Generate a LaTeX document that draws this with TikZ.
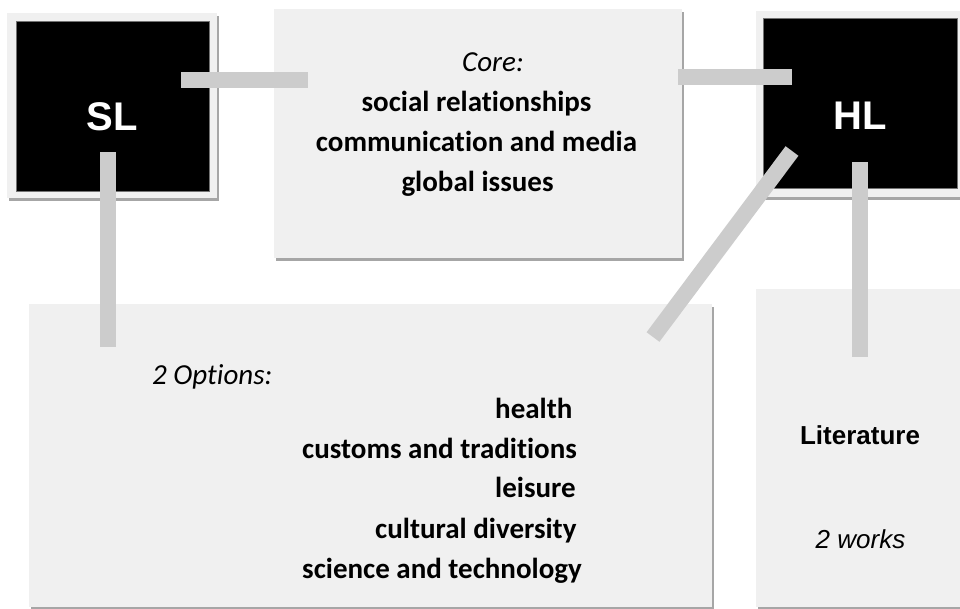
\documentclass[tikz,border=0pt]{standalone}
\usepackage{fontspec}
\newfontfamily\calibri[Ligatures=NoCommon]{Carlito}
\newfontfamily\arialf{Liberation Sans}
\usetikzlibrary{shadows}
\definecolor{panelgray}{HTML}{F0F0F0}
\definecolor{bargray}{HTML}{CCCCCC}
\definecolor{shadowgray}{HTML}{A6A6A6}
\begin{document}
\begin{tikzpicture}[x=1pt,y=-1pt,
  panel/.style={rectangle, fill=panelgray, draw=none, inner sep=0pt, outer sep=0pt, anchor=north west,
    drop shadow={shadow xshift=2pt, shadow yshift=-3pt, fill=shadowgray, opacity=1}},
  blackbox/.style={rectangle, fill=black, draw=black!55, line width=0.6pt, inner sep=0pt, outer sep=0pt, anchor=north west},
  bar/.style={draw=bargray, line width=16pt, line cap=butt},
  bigtxt/.style={font=\arialf\bfseries\fontsize{40}{40}\selectfont, text=white, anchor=base, inner sep=0pt},
  cbold/.style={font=\calibri\bfseries\fontsize{29}{29}\selectfont, anchor=base, inner sep=0pt},
  cital/.style={font=\calibri\itshape\fontsize{29}{29}\selectfont, anchor=base, inner sep=0pt},
  abold/.style={font=\arialf\bfseries\fontsize{26}{26}\selectfont, anchor=base, inner sep=0pt},
  aital/.style={font=\arialf\itshape\fontsize{26}{26}\selectfont, anchor=base, inner sep=0pt}
]
\useasboundingbox (0,0) rectangle (960,608);
\fill[white] (0,0) rectangle (960,608);
\clip (0,0) rectangle (960,608);

% frames and panels
\node[panel, minimum width=210pt, minimum height=185pt] (slframe) at (7,13) {};
\node[blackbox, minimum width=193pt, minimum height=170pt] (sl) at (16,21) {};
\node[panel, minimum width=408pt, minimum height=249pt] (core) at (274,9) {};
\node[panel, minimum width=214pt, minimum height=186pt] (hlframe) at (756,11) {};
\node[blackbox, minimum width=194pt, minimum height=170pt] (hl) at (763,18) {};
\node[panel, minimum width=683pt, minimum height=303pt] (opts) at (29,304) {};
\node[panel, minimum width=214pt, minimum height=318pt] (lit) at (756,289) {};

% texts
\node[bigtxt] (sltxt) at (112,130) {SL};
\node[bigtxt] (hltxt) at (860.5,129) {HL};

\node[cital] (coret) at (493,71) {Core:};
\node[cbold] (c1) at (476.5,111) {social relationships};
\node[cbold] (c2) at (476.5,151) {communication and media};
\node[cbold] (c3) at (477.5,191) {global issues};

\node[cital, anchor=base west] (optt) at (152,384) {2 Options:};
\node[cbold, anchor=base west] (o1) at (495,418) {health};
\node[cbold, anchor=base west] (o2) at (302,458) {customs and traditions};
\node[cbold, anchor=base west] (o3) at (495,497) {leisure};
\node[cbold, anchor=base west] (o4) at (375,538) {cultural diversity};
\node[cbold, anchor=base west] (o5) at (302,578) {science and technology};

\node[abold] (litt) at (860,444) {Literature};
\node[aital] (works) at (860.5,548) {2 works};

% connector ends
\coordinate (slR) at (181,80);
\coordinate (coreL) at (308,80);
\coordinate (coreR) at (678,77);
\coordinate (hlL) at (792,77);
\coordinate (slB) at (108,152);
\coordinate (optsT) at (108,347);
\coordinate (hlD) at (792,151);
\coordinate (optsD) at (653,337);
\coordinate (hlB) at (860,162);
\coordinate (litT) at (860,357);

\draw[bar] (slR) -- (coreL);
\draw[bar] (coreR) -- (hlL);
\draw[bar] (slB) -- (optsT);
\draw[bar] (hlD) -- (optsD);
\draw[bar] (hlB) -- (litT);
\end{tikzpicture}
\end{document}
